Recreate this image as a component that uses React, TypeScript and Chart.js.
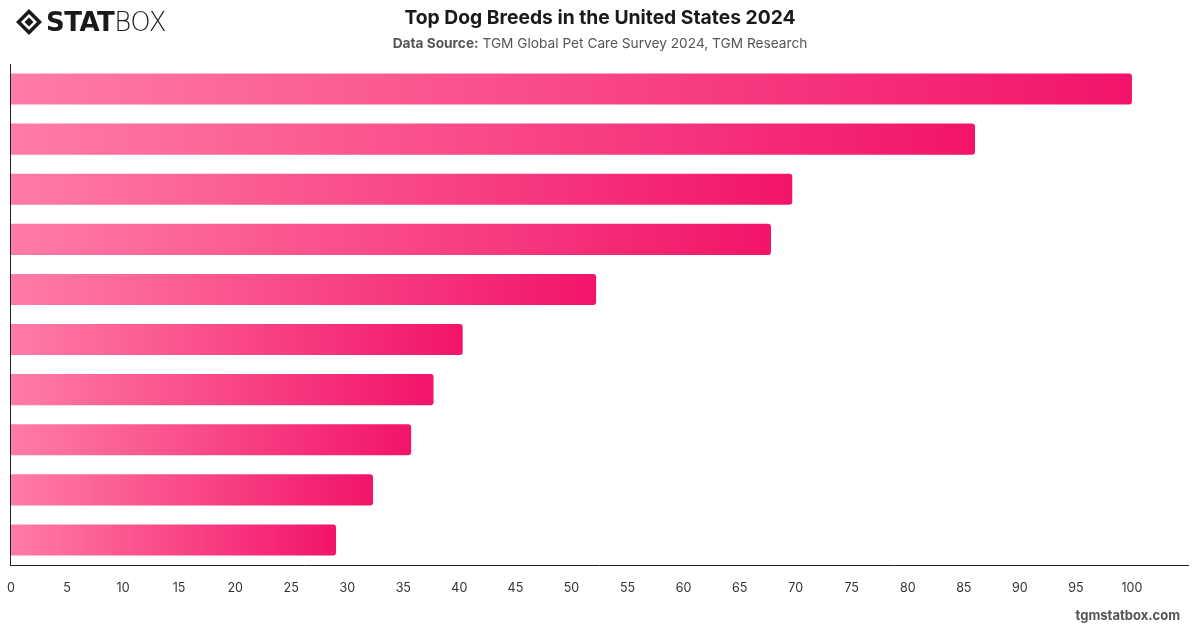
import React, { useEffect, useRef } from "react";
import { Chart, registerables } from "chart.js";

Chart.register(...registerables);

const breeds = [
  "Labrador Retriever",
  "German Shepherd",
  "Golden Retriever",
  "French Bulldog",
  "Bulldog",
  "Poodle",
  "Beagle",
  "Rottweiler",
  "Dachshund",
  "Yorkshire Terrier",
];
const scores = [100, 86, 69.7, 67.8, 52.2, 40.3, 37.7, 35.7, 32.3, 29.0];
const xTicks = [0, 5, 10, 15, 20, 25, 30, 35, 40, 45, 50, 55, 60, 65, 70, 75, 80, 85, 90, 95, 100];

const FONT = "Inter, 'Liberation Sans', Arial, sans-serif";

export default function App() {
  const ref = useRef<HTMLCanvasElement | null>(null);

  useEffect(() => {
    document.body.style.margin = "0";
    const canvas = ref.current!;
    const chart = new Chart(canvas, {
      type: "bar",
      data: {
        labels: breeds,
        datasets: [
          {
            data: scores,
            barPercentage: 0.62,
            categoryPercentage: 1,
            borderRadius: { topLeft: 0, bottomLeft: 0, topRight: 3, bottomRight: 3 },
            borderSkipped: false,
            backgroundColor: (ctx: any) => {
              const c = ctx.chart;
              const area = c.chartArea;
              if (!area) return "#f7427f";
              const x0 = c.scales.x.getPixelForValue(0);
              const v = ctx.raw ?? 0;
              const x1 = c.scales.x.getPixelForValue(v);
              const g = c.ctx.createLinearGradient(x0, 0, Math.max(x1, x0 + 1), 0);
              g.addColorStop(0, "#ff7ca6");
              g.addColorStop(1, "#f2146a");
              return g;
            },
          },
        ],
      },
      options: {
        indexAxis: "y",
        animation: false,
        responsive: false,
        maintainAspectRatio: false,
        layout: { padding: { top: 64, left: 1, right: 12, bottom: 16 } },
        plugins: {
          legend: { display: false },
          tooltip: { enabled: false },
        },
        scales: {
          x: {
            min: 0,
            max: 105,
            afterBuildTicks: (axis: any) => {
              axis.ticks = xTicks.map((v) => ({ value: v }));
            },
            grid: { display: false, drawTicks: false },
            border: { display: true, color: "#222", width: 1 },
            ticks: {
              color: "#333",
              padding: 16,
              font: { family: FONT, size: 12.5 },
            },
          },
          y: {
            grid: { display: false, drawTicks: false },
            border: { display: true, color: "#222", width: 1 },
            ticks: { display: false },
            afterFit: (axis: any) => {
              axis.width = 0;
            },
          },
        },
      },
    });
    return () => chart.destroy();
  }, []);

  return (
    <div style={{ position: "relative", width: 1200, height: 628, background: "#fff", fontFamily: FONT, overflow: "hidden" }}>
      <canvas ref={ref} width={1209} height={628} style={{ position: "absolute", left: -9, top: 0 }} />
      <div style={{ position: "absolute", left: 15, top: 7, display: "flex", alignItems: "center", height: 30 }}>
        <svg width="28" height="28" viewBox="0 0 28 28">
          <path d="M14 1 L27 14 L14 27 L1 14 Z" fill="#1a1a1a" />
          <path d="M14 6 L22 14 L14 22 L6 14 Z" fill="#fff" />
          <path d="M14 9.5 L18.5 14 L14 18.5 L9.5 14 Z" fill="#1a1a1a" />
        </svg>
        <span style={{ fontFamily: "'DejaVu Sans', sans-serif", fontWeight: 900, fontSize: 26, color: "#1a1a1a", marginLeft: 3, letterSpacing: -0.5 }}>STAT</span>
        <span style={{ fontFamily: "'DejaVu Sans', sans-serif", fontWeight: 300, fontSize: 26, color: "#1a1a1a", letterSpacing: -0.5 }}>BOX</span>
      </div>
      <div style={{ position: "absolute", left: 0, width: 1200, top: 5, textAlign: "center", fontSize: 19.3, fontWeight: 700, color: "#1a1a1a" }}>
        Top Dog Breeds in the United States 2024
      </div>
      <div style={{ position: "absolute", left: 0, width: 1200, top: 35, textAlign: "center", fontSize: 13.7, color: "#555" }}>
        <span style={{ fontWeight: 700, color: "#555" }}>Data Source:</span> TGM Global Pet Care Survey 2024, TGM Research
      </div>
      <div style={{ position: "absolute", right: 20, top: 607, fontSize: 13, fontWeight: 700, color: "#555" }}>
        tgmstatbox.com
      </div>
    </div>
  );
}
